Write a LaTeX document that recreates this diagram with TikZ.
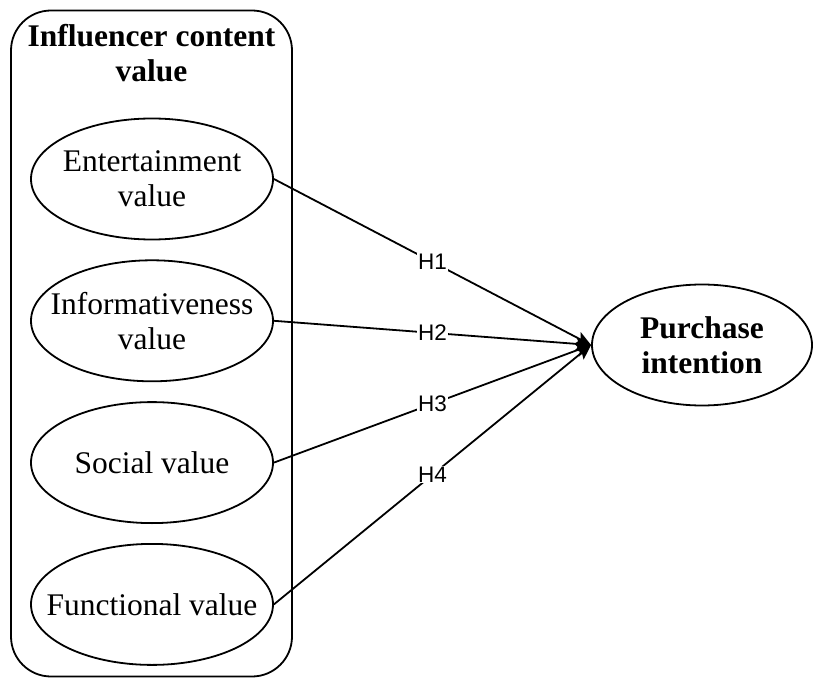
\documentclass[tikz,border=0pt]{standalone}
\usepackage{fontspec}
\setmainfont{Liberation Serif}
\newfontfamily\hlabelfont{Liberation Sans}
\usepackage{tikz}
\usetikzlibrary{shapes.geometric, arrows.meta, positioning}

\begin{document}
\begin{tikzpicture}[x=1pt, y=-1pt,
  construct/.style={ellipse, draw, line width=1.8pt, minimum width=242pt, minimum height=121pt, inner xsep=-20pt, inner ysep=0pt, align=center, font=\fontsize{31.5}{35}\selectfont},
  outcome/.style={construct, minimum width=220pt, font=\fontsize{31.5}{35}\selectfont\bfseries},
  container/.style={rectangle, draw, line width=1.8pt, rounded corners=40pt, minimum width=281pt, minimum height=666pt},
  hyp/.style={fill=white, inner sep=1pt, font=\hlabelfont\fontsize{22.5}{24}\selectfont},
  arrow/.style={-{Stealth[length=15pt, width=13pt, inset=3pt]}, line width=1.8pt}
]
  \useasboundingbox (0,0) rectangle (822,679);
  \node[container] (group) at (151.5,343.5) {};
  \node[align=center, font=\fontsize{31.5}{35}\selectfont\bfseries] (title) at (151.5,53) {Influencer content\\value};
  \node[construct] (ent) at (152,179) {Entertainment\\value};
  \node[construct, below=19pt of ent] (inf) {Informativeness\\value};
  \node[construct, below=19pt of inf] (soc) {Social value};
  \node[construct, below=19pt of soc] (fun) {Functional value};
  \node[outcome] (pur) at (702,345) {Purchase\\intention};

  \draw[arrow] (ent.east) -- node[hyp] {H1} (pur.west);
  \draw[arrow] (inf.east) -- node[hyp] {H2} (pur.west);
  \draw[arrow] (soc.east) -- node[hyp] {H3} (pur.west);
  \draw[arrow] (fun.east) -- node[hyp] {H4} (pur.west);
\end{tikzpicture}
\end{document}
